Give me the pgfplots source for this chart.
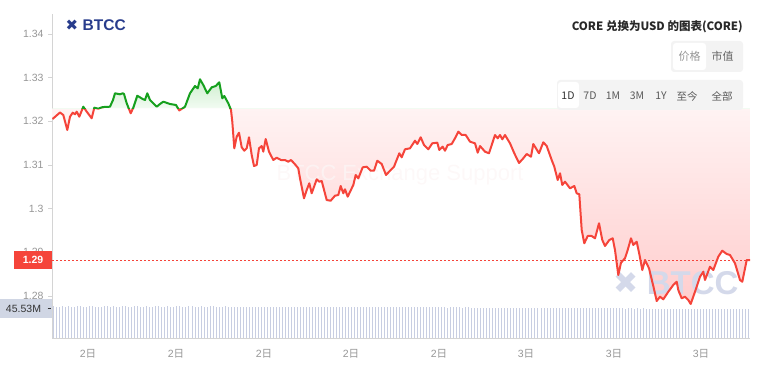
\documentclass[border=0pt]{standalone}
\usepackage{pgfplots}
\pgfplotsset{compat=1.18}
\usepackage{pgfplotstable}
\usepackage{fontspec}
\setmainfont{Liberation Sans}
\newfontfamily\cjk{Noto Sans CJK SC}
\newfontfamily\dejavu{DejaVu Sans}

\definecolor{redline}{RGB}{245,68,58}
\definecolor{greenline}{RGB}{22,160,30}
\definecolor{rft}{RGB}{255,243,243}
\definecolor{rfb}{RGB}{255,205,205}
\definecolor{gft}{RGB}{205,238,205}
\definecolor{gfb}{RGB}{242,251,242}
\definecolor{axisc}{RGB}{212,212,212}
\definecolor{tickc}{RGB}{150,150,150}
\definecolor{volc}{RGB}{200,206,226}
\definecolor{volbox}{RGB}{208,214,228}
\definecolor{logoc}{RGB}{40,60,140}
\definecolor{wmc}{RGB}{212,217,234}
\definecolor{btnbg}{RGB}{243,243,243}
\definecolor{titlec}{RGB}{40,40,40}
\definecolor{wmtext}{RGB}{252,246,246}

\pgfdeclareverticalshading{redfade}{100bp}{color(0bp)=(rfb); color(25bp)=(rfb); color(68.6bp)=(rft); color(75bp)=(white); color(100bp)=(white)}
\pgfdeclareverticalshading{greenfade}{100bp}{color(0bp)=(white); color(25bp)=(white); color(68.6bp)=(gfb); color(75bp)=(gft); color(100bp)=(gft)}

\pgfplotstableread{
t p
0.5 1.32053
4 1.32122
8 1.32202
11.3 1.32145
15.3 1.31801
18 1.32106
20.7 1.32198
23 1.32161
24.7 1.32221
27.3 1.32106
31.3 1.32335
34.7 1.32221
39.7 1.32069
42.3 1.32312
46.3 1.32289
49.7 1.32321
52 1.32328
58 1.32335
61 1.32489
63 1.32642
68 1.32619
70.7 1.32642
72 1.32626
74.7 1.32413
78.7 1.32184
81.3 1.32312
85.3 1.32587
90.7 1.32511
93 1.32489
95.3 1.32642
98 1.32489
104.7 1.32335
108 1.32397
111.3 1.32450
118 1.32397
124 1.32374
127.3 1.32248
133 1.32335
138 1.32642
143 1.32809
145.7 1.32756
148 1.32963
151.3 1.32832
155.3 1.32642
159.7 1.32779
163.7 1.32809
167.3 1.32894
170.3 1.32527
172.3 1.32580
176.3 1.32413
179 1.32260
180.3 1.31992
182.3 1.31382
184.7 1.31648
187 1.31740
189.7 1.31405
192.3 1.31327
194.7 1.31382
197 1.31634
199.7 1.31229
202 1.30977
204.7 1.31000
207 1.31382
209.7 1.31435
211.3 1.31305
213.7 1.31595
217 1.31305
221.3 1.31114
224.7 1.31167
229 1.31114
233 1.31114
236.3 1.31076
239 1.31114
243 1.31016
246.3 1.30924
248 1.30695
252 1.30237
254.7 1.30427
257.3 1.30581
259.7 1.30352
264.7 1.30672
267.3 1.30618
269.7 1.30634
274.7 1.30198
278.7 1.30182
283 1.30297
286.3 1.30313
288.7 1.30519
291.3 1.30352
293 1.30444
295.7 1.30274
301.3 1.30542
303.7 1.30771
306.3 1.30695
310.7 1.30947
314.7 1.30961
318.7 1.30869
322 1.30869
325.3 1.31098
329.7 1.31023
334 1.30771
338.7 1.30886
342 1.30961
347.3 1.31268
349.7 1.31176
353 1.31360
358 1.31382
363 1.31556
365.3 1.31481
368.7 1.31634
372 1.31458
376.3 1.31360
380.3 1.31497
385.3 1.31511
387.3 1.31344
390.7 1.31419
393 1.31327
395.7 1.31458
399.7 1.31481
403 1.31611
406.3 1.31763
409.7 1.31687
413.7 1.31687
418 1.31534
423 1.31497
425.7 1.31282
428 1.31435
433 1.31305
437 1.31268
443 1.31687
445.7 1.31611
448 1.31687
450.3 1.31589
453 1.31687
458 1.31497
462.3 1.31268
467 1.31046
471.3 1.31153
474.7 1.31252
479 1.31190
481.3 1.31481
487 1.31268
491.3 1.31520
494.7 1.31435
499.7 1.31114
502.3 1.30961
505.7 1.30656
508 1.30810
510.3 1.30542
513 1.30618
518 1.30466
522.3 1.30519
524.7 1.30352
527.3 1.30329
529.7 1.29511
532.3 1.29207
535.7 1.29374
539.7 1.29374
543 1.29321
547 1.29665
550.3 1.29282
553 1.29145
557.3 1.29282
560.7 1.29321
563 1.29053
566.3 1.28481
569 1.28763
573 1.28863
575.7 1.29053
579 1.29321
581.3 1.29168
584.7 1.29243
587.3 1.28962
590.3 1.28595
593 1.28824
597 1.28634
601.3 1.28229
604.7 1.27885
608 1.27984
611.3 1.27924
616.3 1.28098
621.3 1.28252
624.7 1.28327
626.3 1.28137
629.7 1.27947
633 1.27984
636.3 1.27908
638.7 1.27817
643 1.28098
648 1.28442
651.3 1.28556
653 1.28366
658 1.28671
661.3 1.28595
666.3 1.28900
670.3 1.29037
674.7 1.28962
678 1.28939
683 1.28749
688 1.28366
690.3 1.28327
694.7 1.28824
698 1.28824
}\price

\pgfplotstableread[row sep=\\]{
v\\
47.9\\47.6\\47.8\\48.0\\47.7\\47.9\\47.5\\47.8\\48.1\\47.9\\47.6\\47.8\\47.9\\48.0\\47.7\\47.8\\47.6\\47.9\\48.2\\47.8\\
47.9\\47.7\\47.8\\48.0\\47.9\\47.6\\47.8\\47.9\\48.1\\47.7\\47.8\\47.9\\47.6\\47.8\\48.0\\47.9\\47.7\\47.8\\47.9\\47.6\\
47.8\\48.0\\47.9\\47.7\\47.8\\48.2\\47.9\\47.8\\47.6\\47.9\\47.8\\47.7\\47.9\\48.0\\47.8\\47.6\\47.7\\47.9\\47.8\\47.7\\
46.9\\47.1\\46.8\\46.9\\47.0\\46.8\\46.9\\47.1\\46.7\\46.9\\47.0\\46.8\\46.9\\46.9\\47.1\\46.8\\46.7\\46.9\\47.0\\46.8\\
46.8\\46.9\\47.0\\46.7\\46.9\\46.8\\47.0\\46.9\\46.6\\46.8\\46.9\\46.7\\46.8\\47.0\\46.8\\46.6\\46.8\\46.9\\46.7\\46.8\\
46.6\\46.8\\46.7\\46.5\\46.7\\46.8\\46.6\\46.7\\46.5\\46.6\\46.8\\46.6\\46.5\\46.7\\46.6\\46.4\\46.6\\46.7\\46.5\\46.6\\
46.4\\46.6\\46.5\\46.3\\46.5\\46.4\\46.6\\46.4\\46.3\\46.5\\46.4\\46.2\\46.4\\46.3\\46.5\\46.3\\46.2\\46.4\\46.3\\46.1\\
45.9\\46.0\\45.8\\45.9\\45.7\\45.8\\45.9\\45.6\\45.8\\45.7\\45.6\\45.8\\45.5\\45.6\\45.7\\45.5\\45.6\\45.4\\45.6\\45.5\\
45.4\\45.5\\45.3\\45.5\\45.4\\45.2\\45.4\\45.3\\45.4\\45.2\\45.3\\45.1\\45.3\\45.2\\45.0\\45.2\\45.1\\45.2\\45.0\\45.1\\
45.0\\44.9\\45.1\\44.9\\45.0\\44.8\\44.9\\45.0\\44.8\\44.9\\44.7\\44.9\\44.8\\44.7\\44.8\\44.6\\44.8\\44.7\\44.6\\44.7\\
44.6\\44.5\\44.7\\44.5\\44.6\\44.4\\44.6\\44.5\\44.4\\44.5\\44.3\\44.5\\44.4\\44.3\\44.5\\44.4\\44.3\\44.4\\44.2\\44.4\\
44.3\\44.4\\44.2\\44.3\\44.4\\44.3\\44.2\\44.4\\44.3\\44.3\\44.2\\44.3\\
}\vol

\begin{document}
\begin{tikzpicture}[x=1pt,y=1pt]
\useasboundingbox (0,0) rectangle (761,370);

% volume
\begin{axis}[at={(52pt,32pt)}, anchor=south west, scale only axis,
  width=698pt, height=324pt, xmin=-0.5, xmax=231.5, ymin=0, ymax=491.7,
  hide axis]
\addplot[ycomb, draw=volc, line width=0.8pt, mark=none] table[x expr=\coordindex, y=v] {\vol};
\end{axis}

% price
\begin{axis}[at={(52pt,32pt)}, anchor=south west, scale only axis,
  width=698pt, height=324pt, xmin=0, xmax=698, ymin=1.270381, ymax=1.34458,
  axis x line*=bottom, axis y line*=left,
  axis line style={draw=axisc, line width=0.6pt},
  xtick={36,124,212,299,387,474,562,649},
  xticklabels={{2{\cjk 日}},{2{\cjk 日}},{2{\cjk 日}},{2{\cjk 日}},{2{\cjk 日}},{3{\cjk 日}},{3{\cjk 日}},{3{\cjk 日}}},
  ytick={1.28,1.29,1.3,1.31,1.32,1.33,1.34},
  tick align=outside, major tick length=4pt,
  ytick style={draw=axisc, line width=0.6pt}, xtick style={draw=none},
  yticklabel style={font=\fontsize{10.5}{12}\selectfont, text=tickc, xshift=-1pt},
  xticklabel style={font=\fontsize{10.5}{12}\selectfont, text=tickc, yshift=-4pt},
  /pgf/number format/.cd, fixed, precision=2, assume math mode=true]

\begin{scope}
\clip (axis cs:0,1.32305) rectangle (axis cs:698,1.20);
\addplot[draw=none, shade, shading=redfade] table[x=t,y=p] {\price} -- (axis cs:698,1.32305) -- (axis cs:0.5,1.32305) -- cycle;
\end{scope}
\begin{scope}
\clip (axis cs:0,1.32305) rectangle (axis cs:698,1.40);
\addplot[draw=none, shade, shading=greenfade] table[x=t,y=p] {\price} -- (axis cs:698,1.32305) -- (axis cs:0.5,1.32305) -- cycle;
\end{scope}

\node[text=wmtext, opacity=0.75, font=\fontsize{22}{22}\selectfont] at (rel axis cs:0.4986,0.503) {BTCC Exchange Support};
\node[text=wmc, font=\dejavu\fontsize{30}{30}\selectfont] at (rel axis cs:0.8223,0.169) {✖};
\node[text=wmc, font=\bfseries\fontsize{33}{33}\selectfont, anchor=west, inner sep=0pt] at (rel axis cs:0.852,0.168) {BTCC};

\addplot[redline, line width=0.8pt, dash pattern=on 2pt off 2pt, mark=none] coordinates {(0,1.28824) (698,1.28824)};

\begin{scope}
\clip (axis cs:0,1.32305) rectangle (axis cs:698,1.20);
\addplot[redline, line width=2pt, mark=none, line join=round] table[x=t,y=p] {\price};
\end{scope}
\begin{scope}
\clip (axis cs:0,1.32305) rectangle (axis cs:698,1.40);
\addplot[greenline, line width=2pt, mark=none, line join=round] table[x=t,y=p] {\price};
\end{scope}
\end{axis}

% price label
\fill[redline] (14,101) rectangle (52,119);
\node[text=white, font=\bfseries\fontsize{10.5}{12}\selectfont] at (33,110) {1.29};
% volume label
\fill[volbox] (0,52) rectangle (52,71);
\node[text=black!80, font=\fontsize{10.5}{12}\selectfont] at (23.5,61.5) {45.53M};
\draw[black!80, line width=0.7pt] (47.5,62) -- (51,62);

% logo
\node[text=logoc, font=\dejavu\fontsize{15}{15}\selectfont] at (72,345) {✖};
\node[text=logoc, font=\bfseries\fontsize{15.5}{16}\selectfont, anchor=west, inner sep=0pt] at (82.5,345) {BTCC};

% title
\node[anchor=east, inner sep=0pt, text=titlec, font=\cjk\bfseries\fontsize{11.5}{13}\selectfont] at (743,343) {CORE 兑换为USD 的图表(CORE)};

% buttons
\fill[btnbg, rounded corners=3pt] (671,298) rectangle (743,329);
\fill[white, rounded corners=3pt] (673,300) rectangle (706,327);
\node[text=tickc, font=\cjk\fontsize{11}{13}\selectfont] at (689.5,313.5) {价格};
\node[text=black!60, font=\cjk\fontsize{11}{13}\selectfont] at (722.5,313.5) {市值};

\fill[btnbg, rounded corners=3pt] (557,260) rectangle (743,290);
\fill[white, rounded corners=3pt] (558,262) rectangle (579,288);
\begin{scope}[every node/.style={font=\cjk\fontsize{10.5}{12}\selectfont, text=black!65}]
\node[text=black!80] at (568,274) {1D};
\node at (590,274) {7D};
\node at (613,274) {1M};
\node at (637,274) {3M};
\node at (661,274) {1Y};
\node at (687,274) {至今};
\node at (722,274) {全部};
\end{scope}
\end{tikzpicture}
\end{document}
